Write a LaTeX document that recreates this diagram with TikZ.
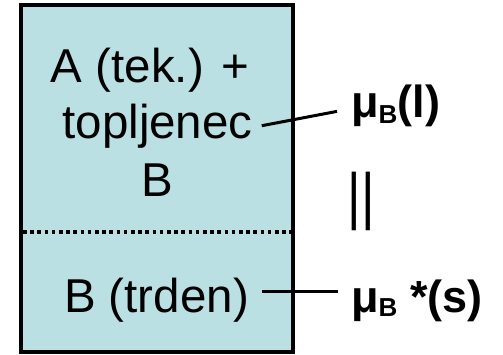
\documentclass[tikz,border=0pt]{standalone}
\usepackage{fontspec}
\setmainfont{Liberation Sans}
\usetikzlibrary{calc}
\definecolor{boxblue}{RGB}{186,224,227}
\begin{document}
\begin{tikzpicture}[x=1pt,y=-1pt,
  boxtext/.style={font=\fontsize{47.5}{56}\selectfont, inner sep=0pt, anchor=base},
  lbl/.style={font=\fontsize{45}{52}\selectfont\bfseries, inner sep=0pt, anchor=base west},
  conn/.style={line width=3pt}]
\useasboundingbox (0,0) rectangle (503,354);
\draw[line width=3.5pt, fill=boxblue] (21,5) rectangle (293,352);
\draw[line width=3.5pt, dash pattern=on 3.5pt off 3.7pt] (23,232) -- (291,232);
\node[boxtext] (l1) at (150,82) {A (tek.) +};
\node[boxtext] (tl) at (157.5,138) {topljenec};
\node[boxtext] (l3) at (157,196) {B};
\node[boxtext] (trd) at (156.5,312) {B (trden)};
\node[lbl] (mul) at (351,117) {μ\raisebox{-6pt}{\fontsize{26}{26}\selectfont B}(l)};
\node[lbl] (mus) at (351,312) {μ\raisebox{-4pt}{\fontsize{26}{26}\selectfont B} *(s)};
\node[font=\fontsize{58}{58}\selectfont, inner sep=0pt, anchor=base west] (eq) at (347.7,217.7) {\scalebox{0.9}[1.08]{||}};
\draw[conn] ($(tl.east)+(9,0)$) -- ($(mul.west)+(-14,6)$);
\draw[conn] ($(trd.east)+(13,-8)$) -- ($(mus.west |- trd.east)+(-13,-8)$);
\end{tikzpicture}
\end{document}
